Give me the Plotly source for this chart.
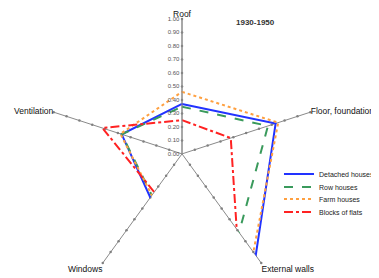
import plotly.graph_objects as go

categories = ["Roof", "Floor, foundation", "External walls", "Windows", "Ventilation"]
series_names = ["Detached houses", "Row houses", "Farm houses", "Blocks of flats"]
detached = [0.37, 0.73, 0.93, 0.40, 0.47]
row = [0.35, 0.67, 0.72, 0.38, 0.47]
farm = [0.46, 0.75, 0.90, 0.38, 0.48]
flats = [0.25, 0.38, 0.69, 0.35, 0.62]
radial_ticks = [0.0, 0.1, 0.2, 0.3, 0.4, 0.5, 0.6, 0.7, 0.8, 0.9, 1.0]
title_text = "1930-1950"

colors = ["#2233ff", "#3a9a5c", "#ffa040", "#ff2222"]
dashes = ["solid", "dash", "dot", "dashdot"]
legend_ids = ["legend", "legend2", "legend3", "legend4"]
legend_rows_px = [166, 179, 191, 204]

fig = go.Figure()

# tick dots along every spoke
tr, tt = [], []
for c in categories:
    for r in radial_ticks[1:]:
        tr.append(r)
        tt.append(c)
fig.add_trace(go.Scatterpolar(r=tr, theta=tt, mode="markers",
                              marker=dict(size=2.5, color="#808080"),
                              showlegend=False, hoverinfo="skip"))

for name, vals, col, dsh, lg in zip(series_names, [detached, row, farm, flats], colors, dashes, legend_ids):
    fig.add_trace(go.Scatterpolar(
        r=vals + [vals[0]], theta=categories + [categories[0]],
        mode="lines", name=name, legend=lg, showlegend=True,
        line=dict(color=col, width=2, dash=dsh),
    ))

dy = 10 / 278
dx = -6 / 379
legend_layouts = {}
for lg, ypx in zip(legend_ids, legend_rows_px):
    legend_layouts[lg] = dict(x=0.715, y=1 - ypx / 278, xanchor="left", yanchor="middle",
                              font=dict(size=7, color="#222"), itemwidth=30,
                              bgcolor="rgba(0,0,0,0)", borderwidth=0)

fig.update_layout(
    width=379, height=278,
    margin=dict(l=0, r=0, t=0, b=0),
    paper_bgcolor="white", plot_bgcolor="white",
    font=dict(family="Arial, Liberation Sans, sans-serif", size=9, color="#222"),
    polar=dict(
        domain=dict(x=[(180 - 135) / 379 + dx, (180 + 135) / 379 + dx],
                    y=[(122 - 109) / 278 + dy, (122 + 135) / 278 + dy]),
        sector=[-54, 234],
        bgcolor="white",
        angularaxis=dict(rotation=90, direction="clockwise", showline=False,
                         showgrid=True, gridcolor="#8a8a8a", gridwidth=1,
                         ticks="", tickfont=dict(size=8.5, color="#111")),
        radialaxis=dict(range=[0, 1.0], angle=90, tickangle=90, side="counterclockwise",
                        showgrid=False, showline=True, linecolor="#8a8a8a",
                        tickvals=radial_ticks, tickformat=".2f",
                        ticks="", tickfont=dict(size=6, color="#555")),
    ),
    annotations=[dict(text="<b>" + title_text + "</b>", x=247 / 379, y=1 - 14 / 278,
                      xref="paper", yref="paper", xanchor="center", yanchor="middle",
                      showarrow=False, font=dict(size=8, color="#333"))],
    **legend_layouts,
)

fig.write_html("out.html")
